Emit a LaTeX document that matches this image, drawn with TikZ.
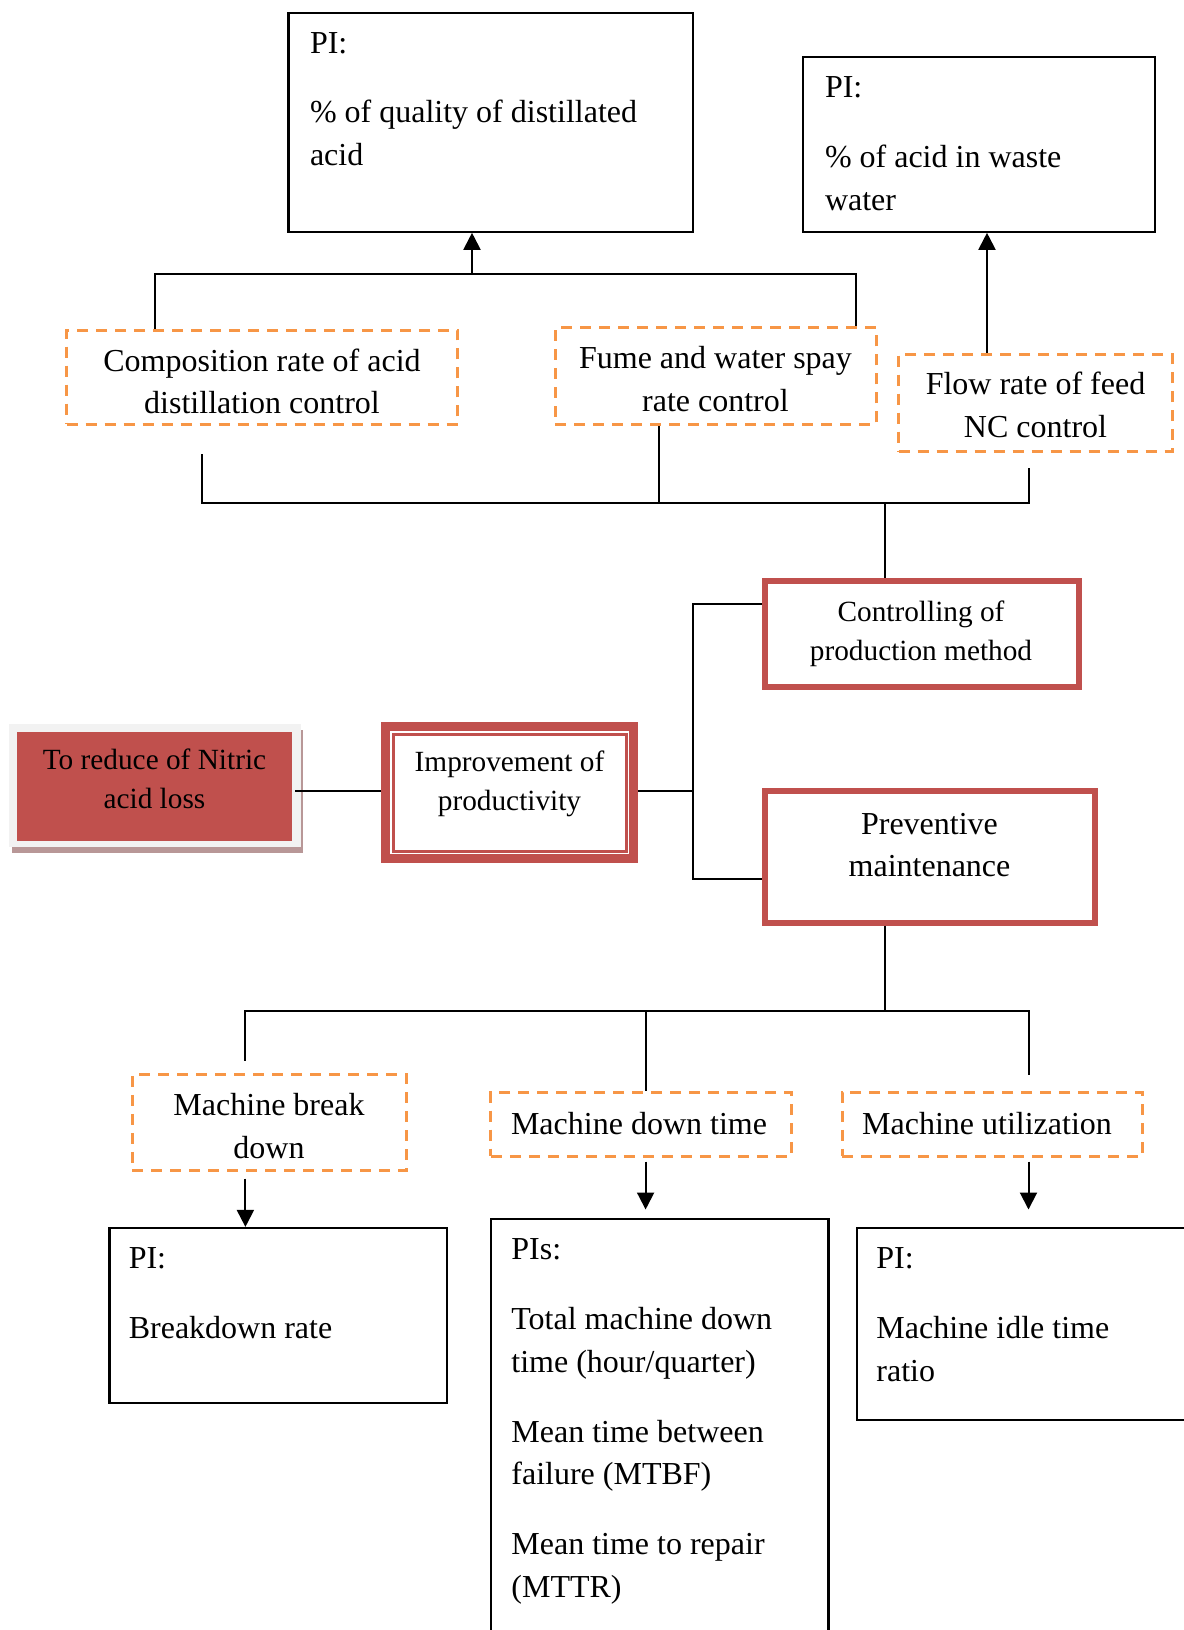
\documentclass[tikz,border=0pt]{standalone}
\usepackage{fontspec}
\setmainfont{Liberation Serif}
\usetikzlibrary{arrows.meta,fit}
\definecolor{accred}{HTML}{C0504D}
\definecolor{accorange}{HTML}{F79646}
\definecolor{framegray}{HTML}{F2F2F2}
\definecolor{shadowrose}{HTML}{B89797}
\newcommand\bigtxt{\fontsize{16}{21.35}\selectfont}
\newcommand\midtxt{\fontsize{14.65}{19.5}\selectfont}
\begin{document}
\begin{tikzpicture}[x=0.5pt,y=-0.5pt,
  box/.style={draw, line width=1.1pt, inner sep=0pt},
  dashbox/.style={draw=accorange, line width=1.5pt, dash pattern=on 5.5pt off 4pt, inner sep=0pt},
  redbox/.style={draw=accred, line width=3pt, inner sep=0pt},
  conn/.style={line width=1pt},
  arr/.style={line width=1pt, -{Triangle[width=8.5pt,length=8.5pt]}},
  ctext/.style={align=center, inner sep=0pt, font=\bigtxt},
  ltext/.style={align=left, anchor=north west, inner sep=0pt, font=\bigtxt},
]
\useasboundingbox (0,0) rectangle (1184,1630);
\fill[white] (0,0) rectangle (1184,1630);
\clip (0,0) rectangle (1184,1630);

% performance indicator boxes (top)
\node[box, fit={(288.5,13.3) (693.2,231.7)}] (pi1) {};
\node[box, fit={(802.7,57.3) (1155.3,231.7)}] (pi2) {};

% control activities
\node[dashbox, fit={(66.5,330) (457.6,424.3)}] (comp) {};
\node[dashbox, fit={(555,327.7) (876,424.3)}] (fume) {};
\node[dashbox, fit={(898.6,354) (1172,451.7)}] (flow) {};

% main branches
\node[redbox, fit={(764.7,581.3) (1078.7,687)}] (ctrl) {};
\node[redbox, fit={(764.7,791.3) (1094.7,922.7)}] (prev) {};

% improvement box with double red frame
\node[draw=accred, line width=4.5pt, inner sep=0pt, fit={(385.5,726.5) (633.5,858.5)}] (impr) {};
\node[draw=accred, line width=1.5pt, inner sep=0pt, fit={(393.5,734.5) (626,851)}] (imprin) {};

% goal box with frame and shadow
\node[fill=shadowrose, inner sep=0pt, fit={(12,730) (303,853)}] (goalshadow) {};
\node[fill=framegray, inner sep=0pt, fit={(9,724) (301,847)}] (goalframe) {};
\node[fill=accred, inner sep=0pt, fit={(17,732) (292,841)}] (goal) {};

% maintenance measures
\node[dashbox, fit={(132.1,1074.5) (406.3,1170.7)}] (brk) {};
\node[dashbox, fit={(490.8,1092) (791.4,1156.2)}] (down) {};
\node[dashbox, fit={(842,1092) (1142.5,1156.2)}] (util) {};

% performance indicator boxes (bottom)
\node[box, fit={(109.5,1228) (447,1403)}] (pib) {};
\node[box, fit={(490.8,1219) (828.4,1660)}] (pid) {};
\node[box, fit={(857,1228) (1220,1420.3)}] (piu) {};

% texts
\node[ltext] (pi1t) at (309.6,22.7) {\strut PI:\\[13.55pt]\strut\% of quality of distillated\\\strut acid};
\node[ltext] (pi2t) at (824.6,67.3) {\strut PI:\\[13.55pt]\strut\% of acid in waste\\\strut water};
\node[ctext] (compt) at (262,384) {\strut Composition rate of acid\\\strut distillation control};
\node[ctext] (fumet) at (715.5,381.5) {\strut Fume and water spay\\\strut rate control};
\node[ctext] (flowt) at (1035.5,407.5) {\strut Flow rate of feed\\\strut NC control};
\node[ctext, font=\midtxt] (ctrlt) at (921,633.5) {\strut Controlling of\\\strut production method};
\node[ctext, font=\midtxt] (imprt) at (509.5,783.5) {\strut Improvement of\\\strut productivity};
\node[ctext, font=\midtxt] (goalt) at (154.5,781) {\strut To reduce of Nitric\\\strut acid loss};
\node[ctext] (prevt) at (929.5,847) {\strut Preventive\\\strut maintenance};
\node[ctext] (brkt) at (269,1128.5) {\strut Machine break\\\strut down};
\node[ctext] (downt) at (639,1125.5) {\strut Machine down time};
\node[ctext] (utilt) at (987,1125.5) {\strut Machine utilization};
\node[ltext] (pibt) at (128.4,1238.5) {\strut PI:\\[13.55pt]\strut Breakdown rate};
\node[ltext] (pidt) at (511,1229.5) {\strut PIs:\\[13.55pt]\strut Total machine down\\\strut time (hour/quarter)\\[13.55pt]\strut Mean time between\\\strut failure (MTBF)\\[13.55pt]\strut Mean time to repair\\\strut (MTTR)};
\node[ltext] (piut) at (876,1238.5) {\strut PI:\\[13.55pt]\strut Machine idle time\\\strut ratio};

% connectors: upper part
\coordinate (jt) at (472,274);
\coordinate (xl) at (154.8,274);
\coordinate (xr) at (856.3,274);
\draw[conn] (xl |- comp.north) -- (xl) -- (xr) -- (xr |- fume.north);
\draw[arr] (jt) -- (jt |- pi1.south);
\coordinate (x2) at (987,0);
\draw[arr] (x2 |- flow.north) -- (x2 |- pi2.south);

\coordinate (b1) at (201.6,454);
\coordinate (b3) at (1028.5,468);
\coordinate (hb) at (0,503);
\coordinate (x4) at (659.2,0);
\coordinate (x5) at (885,0);
\draw[conn] (b1) -- (b1 |- hb) -- (b3 |- hb) -- (b3);
\draw[conn] (x4 |- fume.south) -- (x4 |- hb);
\draw[conn] (x5 |- hb) -- (x5 |- ctrl.north);

% connectors: middle part
\coordinate (xb) at (693,0);
\coordinate (ym) at (0,791);
\coordinate (yc) at (0,604);
\coordinate (yp) at (0,879);
\draw[conn] (ctrl.west |- yc) -| (xb |- yp) -- (prev.west |- yp);
\draw[conn] (impr.east |- ym) -- (xb |- ym);
\draw[conn] ([xshift=1.5pt]goal.east |- ym) -- (impr.west |- ym);

% connectors: lower part
\coordinate (hb2) at (0,1011);
\coordinate (c1) at (245.4,1060.8);
\coordinate (c3) at (1028.5,1075.4);
\coordinate (x6) at (645.6,0);
\draw[conn] (x5 |- prev.south) -- (x5 |- hb2);
\draw[conn] (c1) -- (c1 |- hb2) -- (c3 |- hb2) -- (c3);
\draw[conn] (x6 |- hb2) -- (x6 |- down.north);
\draw[arr, shorten <=3.2pt] (c1 |- brk.south) -- (c1 |- pib.north);
\draw[arr, shorten <=2pt, shorten >=4.2pt] (x6 |- down.south) -- (x6 |- pid.north);
\draw[arr, shorten <=2pt, shorten >=8.7pt] (c3 |- util.south) -- (c3 |- piu.north);
\end{tikzpicture}
\end{document}
